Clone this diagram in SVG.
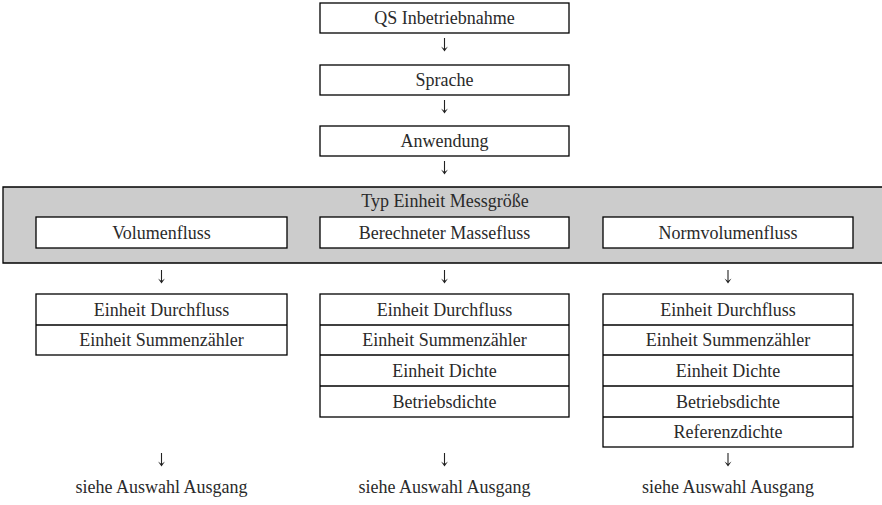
<svg xmlns="http://www.w3.org/2000/svg" width="882" height="505" viewBox="0 0 882 505">
<style>
.box{fill:#fff;stroke:#000;stroke-width:1.3}
.t{font-family:"Liberation Serif","Times New Roman",serif;font-size:18px;fill:#2a2a2a;text-anchor:middle}
.ln{stroke:#000;stroke-width:1.3;fill:none}
.arr{stroke:#222;stroke-width:1.1;fill:none}
.head{fill:#222;stroke:none}
</style>
<defs>
<g id="arrow">
<line class="arr" x1="0" y1="0" x2="0" y2="12"/>
<path class="head" d="M-3.5,8.5 L0,13.5 L3.5,8.5 L0,11 Z"/>
</g>
</defs>
<rect x="0" y="0" width="882" height="505" fill="#fff"/>
<g id="n_qs"><rect class="box" x="320" y="3" width="249" height="30"/><text class="t" x="444.5" y="24">QS Inbetriebnahme</text></g>
<g id="n_sprache"><rect class="box" x="320" y="65" width="249" height="30"/><text class="t" x="444.5" y="86">Sprache</text></g>
<g id="n_anwendung"><rect class="box" x="320" y="126" width="249" height="30"/><text class="t" x="444.5" y="147">Anwendung</text></g>
<g id="n_typ">
<rect x="3" y="187" width="880" height="76" fill="#cccccc"/>
<path class="ln" d="M883,187 H3 V263 H883"/>
<text class="t" x="445" y="207">Typ Einheit Messgröße</text>
</g>
<g id="n_volumen"><rect class="box" x="36" y="217" width="251" height="31"/><text class="t" x="161.5" y="238.5">Volumenfluss</text></g>
<g id="n_masse"><rect class="box" x="320" y="217" width="249" height="31"/><text class="t" x="444.5" y="238.5">Berechneter Massefluss</text></g>
<g id="n_norm"><rect class="box" x="603" y="217" width="250" height="31"/><text class="t" x="728" y="238.5">Normvolumenfluss</text></g>
<g id="n_list1">
<rect class="box" x="36" y="294" width="251" height="61"/>
<line class="ln" x1="36" y1="325" x2="287" y2="325"/>
<text class="t" x="161.5" y="315.5">Einheit Durchfluss</text>
<text class="t" x="161.5" y="346">Einheit Summenzähler</text>
</g>
<g id="n_list2">
<rect class="box" x="320" y="294" width="249" height="123"/>
<line class="ln" x1="320" y1="325" x2="569" y2="325"/>
<line class="ln" x1="320" y1="355" x2="569" y2="355"/>
<line class="ln" x1="320" y1="386" x2="569" y2="386"/>
<text class="t" x="444.5" y="315.5">Einheit Durchfluss</text>
<text class="t" x="444.5" y="346">Einheit Summenzähler</text>
<text class="t" x="444.5" y="376.5">Einheit Dichte</text>
<text class="t" x="444.5" y="407.5">Betriebsdichte</text>
</g>
<g id="n_list3">
<rect class="box" x="603" y="294" width="250" height="153"/>
<line class="ln" x1="603" y1="325" x2="853" y2="325"/>
<line class="ln" x1="603" y1="355" x2="853" y2="355"/>
<line class="ln" x1="603" y1="386" x2="853" y2="386"/>
<line class="ln" x1="603" y1="417" x2="853" y2="417"/>
<text class="t" x="728" y="315.5">Einheit Durchfluss</text>
<text class="t" x="728" y="346">Einheit Summenzähler</text>
<text class="t" x="728" y="376.5">Einheit Dichte</text>
<text class="t" x="728" y="407.5">Betriebsdichte</text>
<text class="t" x="728" y="438">Referenzdichte</text>
</g>
<g id="n_out1"><text class="t" x="161.5" y="493">siehe Auswahl Ausgang</text></g>
<g id="n_out2"><text class="t" x="444.5" y="493">siehe Auswahl Ausgang</text></g>
<g id="n_out3"><text class="t" x="728" y="493">siehe Auswahl Ausgang</text></g>
<g id="connectors">
<use href="#arrow" x="444.5" y="38"/>
<use href="#arrow" x="444.5" y="100"/>
<use href="#arrow" x="444.5" y="161"/>
<use href="#arrow" x="161.5" y="270"/>
<use href="#arrow" x="444.5" y="270"/>
<use href="#arrow" x="728" y="270"/>
<use href="#arrow" x="161.5" y="453"/>
<use href="#arrow" x="444.5" y="453"/>
<use href="#arrow" x="728" y="453"/>
</g>
</svg>
